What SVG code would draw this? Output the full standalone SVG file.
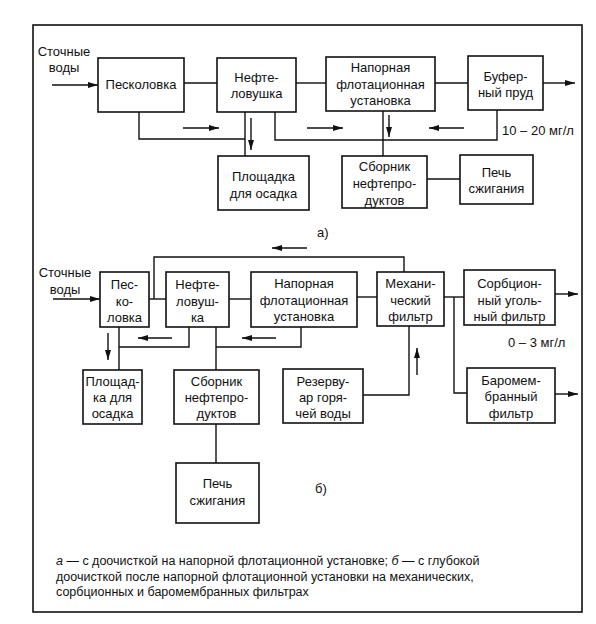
<svg xmlns="http://www.w3.org/2000/svg" width="596" height="624" viewBox="0 0 596 624">
<defs>
<marker id="ah" viewBox="0 0 10 6" refX="10" refY="3" markerWidth="10" markerHeight="6" markerUnits="userSpaceOnUse" orient="auto">
<path d="M0,0 L10,3 L0,6 Z" fill="#111"/>
</marker>
</defs>
<style>
.box{fill:#fff;stroke:#111;stroke-width:1.6}
.ln{fill:none;stroke:#111;stroke-width:1.4}
.ar{fill:none;stroke:#111;stroke-width:1.4;marker-end:url(#ah)}
text{font-family:"Liberation Sans",Arial,sans-serif;font-size:13px;fill:#111}
.c{text-anchor:middle}
.cap{font-size:12.5px}
</style>
<rect x="33" y="25" width="549" height="587" fill="none" stroke="#111" stroke-width="1.6"/>

<!-- Part a -->
<g id="a-input">
<text class="c" x="64" y="56">Сточные</text>
<text class="c" x="64" y="72">воды</text>
</g>
<g id="a-peskolovka"><rect class="box" x="98" y="58" width="86" height="54"/><text class="c" x="141" y="89">Песколовка</text></g>
<g id="a-neftelovushka"><rect class="box" x="217" y="58" width="79" height="54"/><text class="c" x="256.5" y="82">Нефте-</text><text class="c" x="256.5" y="98">ловушка</text></g>
<g id="a-flot"><rect class="box" x="326" y="57" width="109" height="54"/><text class="c" x="380.5" y="72">Напорная</text><text class="c" x="380.5" y="89">флотационная</text><text class="c" x="380.5" y="105">установка</text></g>
<g id="a-bufer"><rect class="box" x="468" y="56" width="75" height="54"/><text class="c" x="505.5" y="81">Буфер-</text><text class="c" x="505.5" y="97">ный пруд</text></g>
<g id="a-ploshchadka"><rect class="box" x="218" y="156" width="91" height="54"/><text class="c" x="263.5" y="181">Площадка</text><text class="c" x="263.5" y="198">для осадка</text></g>
<g id="a-sbornik"><rect class="box" x="342" y="156" width="85" height="52"/><text class="c" x="384.5" y="171">Сборник</text><text class="c" x="384.5" y="188">нефтепро-</text><text class="c" x="384.5" y="205">дуктов</text></g>
<g id="a-pech"><rect class="box" x="460" y="155" width="73" height="49"/><text class="c" x="496.5" y="177">Печь</text><text class="c" x="496.5" y="193">сжигания</text></g>
<text x="502" y="135">10 – 20 мг/л</text>
<text x="317" y="237">а)</text>

<g id="a-connectors">
<line class="ar" x1="52" y1="85" x2="98" y2="85"/>
<line class="ln" x1="184" y1="83" x2="217" y2="83"/>
<line class="ln" x1="296" y1="83" x2="326" y2="83"/>
<line class="ln" x1="435" y1="83" x2="468" y2="83"/>
<line class="ar" x1="543" y1="83" x2="575" y2="83"/>
<polyline class="ln" points="139,112 139,139 245,139"/>
<line class="ln" x1="245" y1="112" x2="245" y2="156"/>
<line class="ar" x1="183" y1="128" x2="219" y2="128"/>
<line class="ar" x1="251" y1="118" x2="251" y2="150"/>
<polyline class="ln" points="275,112 275,140 497,140 497,110"/>
<line class="ln" x1="383" y1="111" x2="383" y2="156"/>
<line class="ar" x1="307" y1="128" x2="343" y2="128"/>
<line class="ar" x1="389" y1="115" x2="389" y2="137"/>
<line class="ar" x1="464" y1="128" x2="429" y2="128"/>
<line class="ln" x1="427" y1="179" x2="460" y2="179"/>
</g>

<!-- Part b -->
<g id="b-input">
<text class="c" x="65" y="277">Сточные</text>
<text class="c" x="65" y="294">воды</text>
</g>
<g id="b-peskolovka"><rect class="box" x="100" y="272" width="49" height="55"/><text class="c" x="124.5" y="289">Пес-</text><text class="c" x="124.5" y="306">ко-</text><text class="c" x="124.5" y="322">ловка</text></g>
<g id="b-neftelovushka"><rect class="box" x="166" y="272" width="63" height="55"/><text class="c" x="197.5" y="289">Нефте-</text><text class="c" x="197.5" y="306">ловуш-</text><text class="c" x="197.5" y="322">ка</text></g>
<g id="b-flot"><rect class="box" x="251" y="272" width="106" height="55"/><text class="c" x="304" y="288">Напорная</text><text class="c" x="304" y="305">флотационная</text><text class="c" x="304" y="321">установка</text></g>
<g id="b-mech"><rect class="box" x="377" y="272" width="67" height="54"/><text class="c" x="410.5" y="288">Механи-</text><text class="c" x="410.5" y="305">ческий</text><text class="c" x="410.5" y="321">фильтр</text></g>
<g id="b-sorb"><rect class="box" x="464" y="270" width="91" height="55"/><text class="c" x="509.5" y="288">Сорбцион-</text><text class="c" x="509.5" y="305">ный уголь-</text><text class="c" x="509.5" y="321">ный фильтр</text></g>
<g id="b-baro"><rect class="box" x="467" y="368" width="88" height="55"/><text class="c" x="511" y="385">Баромем-</text><text class="c" x="511" y="401">бранный</text><text class="c" x="511" y="418">фильтр</text></g>
<g id="b-rezervuar"><rect class="box" x="283" y="369" width="80" height="54"/><text class="c" x="323" y="386">Резерву-</text><text class="c" x="323" y="402">ар горя-</text><text class="c" x="323" y="418">чей воды</text></g>
<g id="b-ploshchadka"><rect class="box" x="83" y="370" width="59" height="54"/><text class="c" x="112.5" y="386">Площад-</text><text class="c" x="112.5" y="402">ка для</text><text class="c" x="112.5" y="418">осадка</text></g>
<g id="b-sbornik"><rect class="box" x="174" y="370" width="85" height="54"/><text class="c" x="216.5" y="386">Сборник</text><text class="c" x="216.5" y="402">нефтепро-</text><text class="c" x="216.5" y="418">дуктов</text></g>
<g id="b-pech"><rect class="box" x="176" y="463" width="83" height="60"/><text class="c" x="217.5" y="488">Печь</text><text class="c" x="217.5" y="505">сжигания</text></g>
<text x="508" y="347">0 – 3 мг/л</text>
<text x="315" y="493">б)</text>

<g id="b-connectors">
<line class="ar" x1="53" y1="299" x2="100" y2="299"/>
<line class="ln" x1="149" y1="299" x2="166" y2="299"/>
<polyline class="ln" points="154,299 154,257 404,257 404,272"/>
<line class="ar" x1="307" y1="248" x2="272" y2="248"/>
<line class="ln" x1="229" y1="299" x2="251" y2="299"/>
<line class="ln" x1="357" y1="297" x2="377" y2="297"/>
<line class="ln" x1="444" y1="297" x2="464" y2="297"/>
<polyline class="ln" points="454,297 454,393 467,393"/>
<line class="ar" x1="555" y1="294" x2="578" y2="294"/>
<line class="ar" x1="555" y1="394" x2="578" y2="394"/>
<polyline class="ln" points="363,395 409,395 409,326"/>
<line class="ar" x1="417" y1="375" x2="417" y2="348"/>
<line class="ln" x1="119" y1="327" x2="119" y2="370"/>
<polyline class="ln" points="119,347 189,347 189,327"/>
<line class="ar" x1="172" y1="338" x2="138" y2="338"/>
<line class="ar" x1="108" y1="333" x2="108" y2="360"/>
<line class="ln" x1="216" y1="327" x2="216" y2="370"/>
<polyline class="ln" points="216,347 301,347 301,327"/>
<line class="ar" x1="276" y1="338" x2="242" y2="338"/>
<line class="ln" x1="216" y1="424" x2="216" y2="463"/>
</g>

<g id="caption">
<text class="cap" x="56" y="565"><tspan font-style="italic">а</tspan> — с доочисткой на напорной флотационной установке; <tspan font-style="italic">б</tspan> — с глубокой</text>
<text class="cap" x="56" y="581">доочисткой после напорной флотационной установки на механических,</text>
<text class="cap" x="56" y="596">сорбционных и баромембранных фильтрах</text>
</g>
</svg>
